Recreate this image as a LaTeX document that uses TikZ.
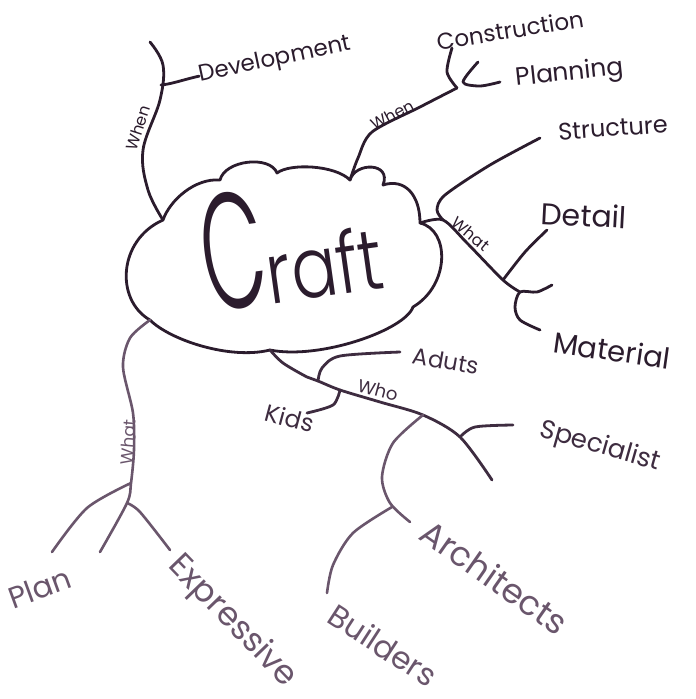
\documentclass[tikz,border=0pt]{standalone}
\usepackage{fontspec}
\usepackage{graphicx}
\setmainfont{Poppins}
\newfontfamily\thinhand{Poppins}[UprightFont={* Light}]
\definecolor{inkdark}{HTML}{2B1C2D}
\definecolor{inkmid}{HTML}{3E2C40}
\definecolor{inklight}{HTML}{6A566C}
\begin{document}
\begin{tikzpicture}[x=1pt,y=-1pt,
  pen/.style={line width=2.8pt,line cap=round,line join=round,draw=inkdark},
  penmid/.style={pen,draw=inkmid},
  penlight/.style={pen,draw=inklight,line width=2.6pt},
  lab/.style={inner sep=0pt,text=inkdark},
  labmid/.style={inner sep=0pt,text=inkmid},
  lablight/.style={inner sep=0pt,text=inklight},
  sz/.style={font=\fontsize{#1}{#1}\selectfont}]
\clip (0,0) rectangle (696,699);
\fill[white] (0,0) rectangle (696,699);

% notches of the cloud
\coordinate (c1) at (163,220);
\coordinate (c2) at (220,180);
\coordinate (c3) at (277,173);
\coordinate (c4) at (350,180);
\coordinate (c5) at (383,185);
\coordinate (c6) at (420,223);
\coordinate (c7) at (413,307);
\coordinate (c8) at (270,350);
\coordinate (c9) at (150,320);

\draw[pen] (c1) .. controls (170,200) and (195,178) .. (c2)
  .. controls (225,160) and (270,155) .. (c3)
  .. controls (290,163) and (335,165) .. (c4)
  .. controls (355,162) and (392,162) .. (c5)
  .. controls (405,178) and (420,195) .. (c6)
  .. controls (450,230) and (450,285) .. (c7)
  .. controls (405,330) and (320,360) .. (c8)
  .. controls (230,360) and (170,340) .. (c9)
  .. controls (115,300) and (118,240) .. (c1);

\node[lab,rotate=8] (craft) at (290,243)
  {\thinhand\scalebox{0.5}[1]{\fontsize{165}{165}\selectfont C}\kern-2pt\scalebox{0.8}[1]{\fontsize{85}{85}\selectfont raft}};

% upper left: When -> Development
\coordinate (d0) at (161,85);
\draw[pen] plot[smooth,tension=0.6] coordinates {(c1) (148,190) (143,150) (160,100) (163,65) (150,42)};
\node[lab,sz=23,rotate=12] (dev) at (275,60) {Development};
\draw[pen] (d0) .. controls (172,84) and (182,80) .. (dev.west);
\node[lab,sz=16,rotate=72] (when1) at (138,128) {When};

% upper right: When -> Construction, Planning
\coordinate (j1) at (457,88);
\draw[pen] plot[smooth] coordinates {(c4) (358,158) (372,132) (420,107) (j1)};
\node[lab,sz=16,rotate=28] (when2) at (392,115) {When};
\node[lab,sz=23,rotate=9] (cons) at (510,30) {Construction};
\node[lab,sz=25,rotate=6] (plan2) at (570,74) {Planning};
\draw[pen] plot[smooth] coordinates {(j1) (447,72) (452,48)};
\draw[pen] plot[smooth] coordinates {(478,62) (463,82) (480,86) (500,82)};

% right: Structure, What -> Detail, Material
\coordinate (w0) at (443,220);
\coordinate (wd) at (503,280);
\coordinate (wm) at (520,292);
\node[lab,sz=24,rotate=4] (struct) at (613,128) {Structure};
\draw[pen] plot[smooth] coordinates {(540,138) (490,165) (445,195) (437,210) (w0)};
\draw[pen] plot[smooth] coordinates {(c6) (w0) (467,243) (wd) (wm)};
\node[lab,sz=16,rotate=-40] (what1) at (471,234) {What};
\node[lab,sz=30,rotate=-3] (detail) at (584,215) {Detail};
\draw[pen] plot[smooth] coordinates {(wd) (525,252) (547,230)};
\node[lab,sz=29,rotate=-8] (mat) at (612,350) {Material};
\draw[pen] plot[smooth] coordinates {(552,285) (537,292) (wm) (515,307) (520,320) (540,330)};

% bottom: Who -> Adults, Kids, Specialist, Architects, Builders
\coordinate (h1) at (318,381);
\coordinate (h2) at (340,390);
\coordinate (h3) at (423,415);
\coordinate (h4) at (460,437);
\coordinate (h5) at (392,507);
\draw[penmid] plot[smooth] coordinates {(c8) (283,363) (307,377) (h1) (h2) (380,402) (h3) (h4) (492,480)};
\node[labmid,sz=18,rotate=-15] (who) at (378,390) {Who};
\node[labmid,sz=23,rotate=-10] (adults) at (446,361) {Aduts};
\draw[penmid] plot[smooth] coordinates {(400,352) (340,356) (322,368) (h1)};
\node[labmid,sz=24,rotate=-15] (kids) at (290,418) {Kids};
\draw[penmid] plot[smooth] coordinates {(h2) (333,405) (307,413)};
\node[labmid,sz=26,rotate=-16] (spec) at (600,447) {Specialist};
\draw[penmid] plot[smooth] coordinates {(h4) (475,427) (513,425)};
\node[lablight,sz=34,rotate=-35] (arch) at (495,577) {Architects};
\draw[penlight] plot[smooth] coordinates {(h3) (393,443) (382,477) (390,503) (410,522)};
\node[lablight,sz=31,rotate=-33] (build) at (383,645) {Builders};
\draw[penlight] plot[smooth] coordinates {(h5) (353,533) (333,565) (327,593)};

% lower left: What -> Plan, Expressive
\coordinate (l1) at (131,483);
\coordinate (l2) at (127,503);
\draw[penlight] plot[smooth] coordinates {(c9) (130,338) (123,367) (133,413) (134,450) (l1) (l2) (100,552)};
\node[lablight,sz=17,rotate=85] (what2) at (128,442) {What};
\draw[penlight] plot[smooth] coordinates {(l1) (87,508) (52,552)};
\node[lablight,sz=30,rotate=20] (planl) at (40,588) {Plan};
\draw[penlight] plot[smooth] coordinates {(l2) (140,512) (170,550)};
\node[lablight,sz=33,rotate=-46] (expr) at (232,622) {Expressive};
\end{tikzpicture}
\end{document}
